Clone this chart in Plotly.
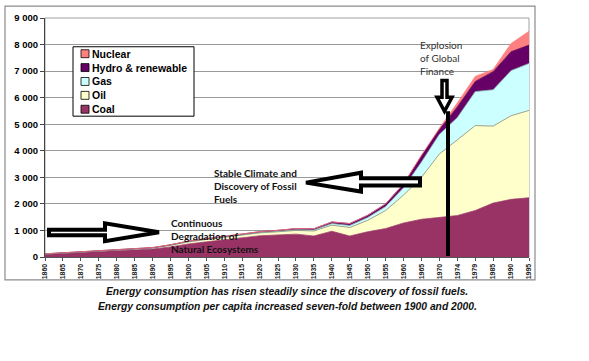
import plotly.graph_objects as go

years = ["1860", "1865", "1870", "1875", "1880", "1885", "1890", "1895", "1900", "1905",
         "1910", "1915", "1920", "1925", "1930", "1935", "1940", "1945", "1950", "1955",
         "1960", "1965", "1970", "1974", "1979", "1985", "1990", "1995"]

coal = [110, 140, 170, 205, 235, 265, 300, 380, 490, 570, 650, 720, 800, 830, 860, 790,
        970, 790, 950, 1070, 1280, 1420, 1480, 1560, 1750, 2030, 2170, 2230]
oil = [0, 5, 10, 15, 20, 30, 40, 60, 80, 90, 100, 100, 110, 120, 140, 190,
       230, 320, 430, 680, 1050, 1580, 2400, 2850, 3200, 2900, 3150, 3290]
gas = [0, 0, 0, 0, 0, 0, 0, 5, 10, 10, 15, 15, 20, 25, 30, 40,
       60, 80, 110, 150, 280, 580, 740, 840, 1280, 1370, 1700, 1770]
hydro = [10, 10, 10, 10, 10, 10, 15, 15, 20, 20, 20, 25, 25, 30, 40, 45,
         60, 70, 80, 100, 140, 230, 180, 400, 380, 680, 710, 690]
nuclear = [0, 0, 0, 0, 0, 0, 0, 0, 0, 0, 0, 0, 0, 0, 0, 0,
           0, 0, 0, 0, 0, 20, 50, 150, 190, 80, 310, 520]

series_names = ["Coal", "Oil", "Gas", "Hydro & renewable", "Nuclear"]
series_values = [coal, oil, gas, hydro, nuclear]
series_colors = ["#993366", "#FFFFCC", "#CCFFFF", "#660066", "#FF8080"]
series_lines = ["#993366", "#8A8A70", "#7FA8A8", "#550055", "#FF8080"]

y_tickvals = [0, 1000, 2000, 3000, 4000, 5000, 6000, 7000, 8000, 9000]
y_ticktext = ["0", "1 000", "2 000", "3 000", "4 000", "5 000", "6 000", "7 000", "8 000", "9 000"]

caption_lines = ["Energy consumption has risen steadily since the discovery of fossil fuels.",
                 "Energy consumption per capita increased seven-fold between 1900 and 2000."]

W, H = 589, 361
L, R, T, B = 45, 529, 16, 257


def px(x):
    return (x - L) / (R - L)


def py(y):
    return (B - y) / (B - T)


def path(points):
    s = "M " + " L ".join(f"{px(x):.5f},{py(y):.5f}" for x, y in points) + " Z"
    return s


fig = go.Figure()
for name, vals, col, lc in zip(series_names, series_values, series_colors, series_lines):
    fig.add_trace(go.Scatter(
        x=years, y=vals, name=name, mode="lines", stackgroup="one",
        fillcolor=col, line=dict(color=lc, width=0.8), showlegend=False,
        hoverinfo="x+y+name"))

shapes = []
# outer chart frame
shapes.append(dict(type="rect", xref="paper", yref="paper", x0=px(5), x1=px(535), y0=py(280), y1=py(4),
                   line=dict(color="#8c8c8c", width=1.2), layer="below"))
# plot area border
shapes.append(dict(type="rect", xref="paper", yref="paper", x0=0, x1=1, y0=0, y1=1,
                   line=dict(color="#a0a0a0", width=1), layer="below"))

# legend box
shapes.append(dict(type="rect", xref="paper", yref="paper", x0=px(73), x1=px(194), y0=py(115), y1=py(45),
                   line=dict(color="black", width=1), fillcolor="white", layer="above"))
annotations = []
leg_order = [4, 3, 2, 1, 0]
for k, idx in enumerate(leg_order):
    yc = 52 + 14 * k
    shapes.append(dict(type="rect", xref="paper", yref="paper", x0=px(81), x1=px(89),
                       y0=py(yc + 4), y1=py(yc - 4), line=dict(color="black", width=0.8),
                       fillcolor=series_colors[idx], layer="above"))
    annotations.append(dict(xref="paper", yref="paper", x=px(90), y=py(yc), xanchor="left", yanchor="middle",
                            text="<b>" + series_names[idx] + "</b>", showarrow=False,
                            font=dict(family="Liberation Sans, Arial", size=10.5, color="black")))

arrow_line = dict(color="black", width=4)
# right-pointing arrow
shapes.append(dict(type="path", xref="paper", yref="paper",
                   path=path([(49, 229.5), (105, 229.5), (105, 223), (159, 232), (105, 241), (105, 235), (49, 235)]),
                   line=arrow_line, fillcolor="white", layer="above"))
# left-pointing arrow
shapes.append(dict(type="path", xref="paper", yref="paper",
                   path=path([(306, 182), (361, 172), (361, 177.5), (420, 177.5), (420, 185), (361, 185), (361, 191)]),
                   line=arrow_line, fillcolor="white", layer="above"))
# down arrow
shapes.append(dict(type="path", xref="paper", yref="paper",
                   path=path([(442, 79), (447, 79), (447, 96), (452, 96), (444.5, 110), (437, 96), (442, 96)]),
                   line=dict(color="black", width=3.5), fillcolor="white", layer="above"))
# vertical line
shapes.append(dict(type="line", xref="paper", yref="paper", x0=px(448), x1=px(448), y0=py(110), y1=py(256),
                   line=dict(color="black", width=4), layer="above"))

note_font = dict(family="Lato, Open Sans", size=10, color="#111111")
annotations.append(dict(xref="paper", yref="paper", x=px(418), y=py(35), xanchor="left", yanchor="top",
                        align="left", showarrow=False, text="Explosion<br>of Global<br>Finance",
                        font=dict(family="Lato, Open Sans", size=10, color="#333333")))
annotations.append(dict(xref="paper", yref="paper", x=px(212), y=py(164), xanchor="left", yanchor="top",
                        align="left", showarrow=False,
                        text="<b>Stable Climate and<br>Discovery of Fossil<br>Fuels</b>", font=note_font))
annotations.append(dict(xref="paper", yref="paper", x=px(169), y=py(215), xanchor="left", yanchor="top",
                        align="left", showarrow=False,
                        text="<b>Continuous<br>Degradation of<br>Natural Ecosystems</b>", font=note_font))
for line_text, yc in zip(caption_lines, [292, 307]):
    annotations.append(dict(xref="paper", yref="paper", x=px(287), y=py(yc), xanchor="center", yanchor="middle",
                            align="center", showarrow=False,
                            text="<b><i>" + line_text + "</i></b>",
                            font=dict(family="Liberation Sans, Arial", size=10.3, color="#111111")))

fig.update_layout(
    width=W, height=H,
    margin=dict(l=L, r=W - R, t=T, b=H - B, pad=0),
    paper_bgcolor="white", plot_bgcolor="white",
    showlegend=False,
    shapes=shapes, annotations=annotations,
    xaxis=dict(type="category", range=[0, 27], tickangle=-90, showgrid=False,
               ticks="outside", ticklen=3, tickcolor="#555", showline=True, linecolor="#555", linewidth=1,
               tickfont=dict(family="Liberation Sans, Arial", size=7, color="#222", weight="bold"),
               zeroline=False, fixedrange=True),
    yaxis=dict(range=[0, 9000], tickvals=y_tickvals, ticktext=y_ticktext, showgrid=True,
               gridcolor="#999999", gridwidth=1, ticks="outside", ticklen=4, tickcolor="#444",
               showline=True, linecolor="#444", linewidth=1, zeroline=False,
               tickfont=dict(family="Liberation Sans, Arial", size=9.5, color="black", weight="bold"),
               fixedrange=True),
)

fig.write_html("out.html", config={"displayModeBar": False},
               post_script="document.body.style.margin='0';document.body.style.padding='0';")
